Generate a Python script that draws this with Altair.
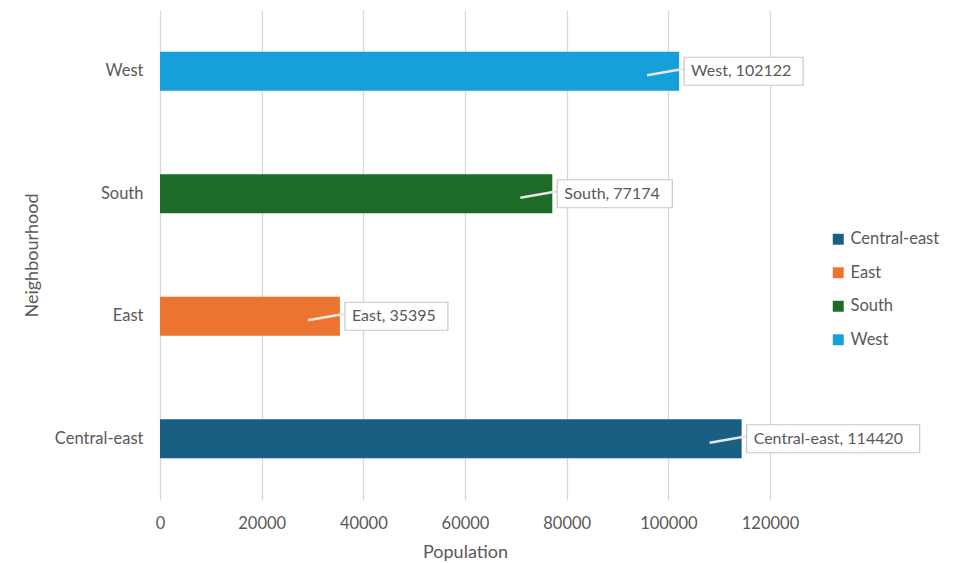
import altair as alt
import pandas as pd

neighbourhoods = ["Central-east", "East", "South", "West"]
population = [114420, 35395, 77174, 102122]
colors = ["#195e83", "#ec7431", "#1d6b27", "#15a0da"]
y_order = ["West", "South", "East", "Central-east"]
x_ticks = [0, 20000, 40000, 60000, 80000, 100000, 120000]

df = pd.DataFrame({"Neighbourhood": neighbourhoods, "Population": population})
df["label"] = df["Neighbourhood"] + ", " + df["Population"].astype(str)

FONT = "Lato"
GREY = "#595959"

y_enc = alt.Y("Neighbourhood:N", sort=y_order,
              scale=alt.Scale(paddingInner=0.68, paddingOuter=0.34),
              axis=alt.Axis(title="Neighbourhood", domain=False, ticks=False,
                            grid=False, labelFontSize=16.5, labelColor=GREY,
                            labelFont=FONT, titleFont=FONT, titleFontSize=18,
                            titleColor=GREY, titleFontWeight="normal",
                            labelPadding=17, titlePadding=13))
x_enc = alt.X("Population:Q", scale=alt.Scale(domain=[0, 120000], nice=False),
              axis=alt.Axis(title="Population", values=x_ticks, format="d",
                            domain=False, ticks=False, grid=True,
                            gridColor="#d9d9d9", gridWidth=1.3,
                            labelFontSize=16.5, labelColor=GREY, labelFont=FONT,
                            labelFlush=False,
                            titleFont=FONT, titleFontSize=18, titleColor=GREY,
                            titleFontWeight="normal", labelPadding=15,
                            titlePadding=12))

base = alt.Chart(df)

bars = base.mark_bar().encode(
    x=x_enc,
    y=y_enc,
    color=alt.Color("Neighbourhood:N",
                    scale=alt.Scale(domain=neighbourhoods, range=colors),
                    legend=alt.Legend(title=None, orient="none", legendX=670,
                                      legendY=221, symbolType="square",
                                      symbolSize=120, symbolStrokeWidth=0,
                                      labelFontSize=16.5, labelColor=GREY,
                                      labelFont=FONT, rowPadding=16.5,
                                      labelOffset=4)),
)

box_widths = {"Central-east": 173, "East": 103, "South": 115, "West": 119}

layers = [bars]
for name in neighbourhoods:
    w = box_widths[name]
    sub = base.transform_filter(alt.datum.Neighbourhood == name)
    pointer = sub.mark_rule(color="#e6e6e6", strokeWidth=2.5, xOffset=-32,
                            x2Offset=8, yOffset=4, y2Offset=-3).encode(
        x="Population:Q", x2="Population:Q",
        y=alt.Y("Neighbourhood:N", sort=y_order),
        y2=alt.Y2("Neighbourhood:N"))
    box = sub.mark_bar(size=28, fill="white", stroke="#c8c8c8",
                       strokeWidth=1.2, xOffset=5, x2Offset=5 + w).encode(
        x="Population:Q", x2="Population:Q",
        y=alt.Y("Neighbourhood:N", sort=y_order))
    layers += [pointer, box]

texts = base.mark_text(align="left", dx=12, fontSize=16, font=FONT,
                       color=GREY).encode(
    x="Population:Q",
    y=alt.Y("Neighbourhood:N", sort=y_order),
    text="label:N")
layers.append(texts)

chart = alt.layer(*layers).properties(
    width=610, height=490, background="white",
    padding={"left": 15, "top": 2, "right": 5, "bottom": 5},
).configure_view(stroke=None)

chart.save("out.html", embed_options={"renderer": "svg", "actions": False})
